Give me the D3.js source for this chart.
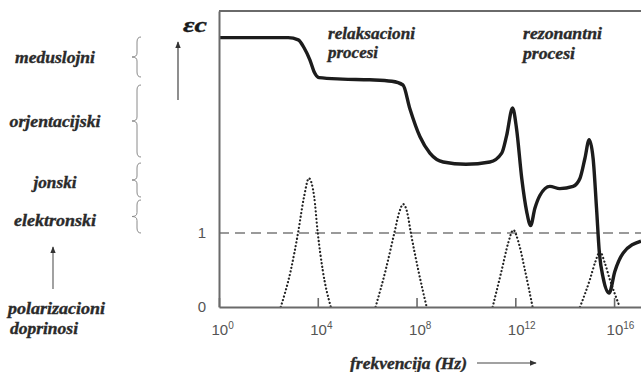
<!DOCTYPE html>
<html><head><meta charset="utf-8">
<script src="https://cdn.jsdelivr.net/npm/d3@7"></script>
<style>body{margin:0;background:#fff}svg{display:block}
.lbl{font-family:"Liberation Serif","Times New Roman",serif;font-weight:bold;font-style:italic;}
</style>
</head><body>
<svg id="c" width="641" height="372"></svg>
<script>
// ---- data (log10 of frequency in Hz, relative permittivity) ----
const solidLogF = [0, 2.8, 3.21, 3.45, 3.68, 3.85, 4.05, 5.0, 6.1, 7.0, 7.45, 7.73, 8.14, 8.54, 9.08, 10.0, 10.97, 11.45, 11.65, 11.89, 12.05, 12.26, 12.46, 12.62, 12.79, 13.0, 13.4, 13.8, 14.34, 14.62, 14.82, 14.99, 15.15, 15.29, 15.4, 15.56, 15.8, 16.03, 16.37, 17.09];
const solidEps  = [3.64, 3.64, 3.61, 3.5, 3.34, 3.18, 3.10, 3.08, 3.07, 3.05, 3.0, 2.68, 2.30, 2.08, 1.96, 1.93, 1.96, 2.08, 2.32, 2.69, 2.41, 1.74, 1.29, 1.10, 1.33, 1.51, 1.63, 1.6, 1.63, 1.74, 2.01, 2.26, 2.01, 1.33, 0.75, 0.39, 0.19, 0.48, 0.73, 0.89];

const peak1LogF = [2.5, 2.91, 3.2, 3.45, 3.64, 3.85, 4.0, 4.2, 4.53];
const peak1Val  = [0, 0.5, 1.0, 1.5, 1.74, 1.5, 1.0, 0.5, 0];
const peak2LogF = [6.34, 6.75, 7.1, 7.3, 7.46, 7.62, 7.77, 8.07, 8.41];
const peak2Val  = [0, 0.5, 1.0, 1.28, 1.39, 1.28, 1.0, 0.5, 0];
const peak3LogF = [11.08, 11.45, 11.7, 11.92, 12.15, 12.39, 12.7];
const peak3Val  = [0, 0.5, 0.85, 1.04, 0.85, 0.5, 0];
const peak4LogF = [14.62, 15.02, 15.25, 15.43, 15.62, 15.83, 16.23];
const peak4Val  = [0, 0.37, 0.62, 0.75, 0.6, 0.37, 0];

const tickExponents = [0, 4, 8, 12, 16];
const yTickValues = [0, 1];
const referenceLevel = 1;

const contributionLabels = ["meduslojni", "orjentacijski", "jonski", "elektronski"];
const processLabels = [["relaksacioni", "procesi"], ["rezonantni", "procesi"]];
const xTitle = "frekvencija (Hz)";
const yTitle = "εc";
const noteLines = ["polarizacioni", "doprinosi"];

// ---- drawing ----
const svg = d3.select("#c");
const x = d3.scaleLog().domain([1, Math.pow(10, 17.09)]).range([219, 641]);
const y = d3.scaleLinear().domain([0, 4]).range([307, 11]);

const sans = "'Liberation Sans', Arial, sans-serif";
const axisColor = "#6a6a6a";

svg.append("line")
  .attr("x1", x(1)).attr("x2", 641)
  .attr("y1", y(referenceLevel)).attr("y2", y(referenceLevel))
  .attr("stroke", "#7a7a7a").attr("stroke-width", 1.5)
  .attr("stroke-dasharray", "10 6");

const line = d3.line().x(d => x(Math.pow(10, d[0]))).y(d => y(d[1])).curve(d3.curveMonotoneX);
[[peak1LogF, peak1Val], [peak2LogF, peak2Val], [peak3LogF, peak3Val], [peak4LogF, peak4Val]].forEach(([f, v]) => {
  svg.append("path")
    .attr("d", line(f.map((d, i) => [d, v[i]])))
    .attr("fill", "none").attr("stroke", "#222").attr("stroke-width", 2.2)
    .attr("stroke-linecap", "round").attr("stroke-dasharray", "0.1 3.6");
});

svg.append("path")
  .attr("d", line(solidLogF.map((d, i) => [d, solidEps[i]])))
  .attr("fill", "none").attr("stroke", "#1c1c1c").attr("stroke-width", 3.4)
  .attr("stroke-linejoin", "round");

const xAxis = d3.axisBottom(x)
  .tickValues(tickExponents.map(e => Math.pow(10, e)))
  .tickSizeInner(-9).tickSizeOuter(0).tickFormat("");
const gx = svg.append("g").attr("transform", `translate(0,${y(0)})`).call(xAxis);
gx.select(".domain").attr("stroke", axisColor).attr("stroke-width", 2);
gx.selectAll(".tick line").attr("stroke", axisColor).attr("stroke-width", 1.6);
gx.selectAll(".tick").each(function(d, i) {
  const t = d3.select(this).append("text")
    .attr("x", -8).attr("y", 28)
    .attr("text-anchor", "start").attr("fill", "#555")
    .style("font-family", sans).style("font-size", "15px");
  t.append("tspan").text("10");
  t.append("tspan").attr("dy", -6).style("font-size", "10px").text(tickExponents[i]);
});

const yAxis = d3.axisLeft(y).tickValues(yTickValues).tickSize(0).tickPadding(13).tickFormat(d3.format("d"));
const gy = svg.append("g").attr("transform", `translate(${x(1)},0)`).call(yAxis);
gy.select(".domain").attr("stroke", axisColor).attr("stroke-width", 2);
gy.selectAll("text").attr("fill", "#555").style("font-family", sans).style("font-size", "15px");

svg.append("line").attr("x1", x(1)).attr("x2", 641).attr("y1", y(4)).attr("y2", y(4))
  .attr("stroke", axisColor).attr("stroke-width", 2);

function label(txt, px, py, opts = {}) {
  const t = svg.append("text").attr("class", "lbl").attr("x", px).attr("y", py)
    .attr("text-anchor", opts.anchor || "start")
    .attr("dominant-baseline", "central")
    .attr("fill", opts.fill || "#2a2a2a")
    .attr("stroke", opts.fill || "#2a2a2a").attr("stroke-width", 0.35)
    .style("font-size", (opts.size || 16) + "px")
    .text(txt);
  if (opts.len) t.attr("textLength", opts.len).attr("lengthAdjust", "spacingAndGlyphs");
  return t;
}

label(processLabels[0][0], 328, 33, {len: 87});
label(processLabels[0][1], 328, 52, {len: 50});
label(processLabels[1][0], 523, 33, {len: 79});
label(processLabels[1][1], 523, 53, {len: 52});

label(yTitle, 183, 25, {size: 21, fill: "#1a1a1a", len: 24});
const defs = svg.append("defs");
defs.append("marker").attr("id", "ah").attr("viewBox", "0 0 10 10").attr("refX", 9).attr("refY", 5)
  .attr("markerWidth", 6).attr("markerHeight", 6).attr("orient", "auto-start-reverse")
  .append("path").attr("d", "M0,1 L10,5 L0,9 Z").attr("fill", "#333");
svg.append("line").attr("x1", 178).attr("y1", 100).attr("x2", 178).attr("y2", 42)
  .attr("stroke", "#444").attr("stroke-width", 1.2).attr("marker-end", "url(#ah)");

label(xTitle, 350, 363, {len: 117});
svg.append("line").attr("x1", 477).attr("y1", 363).attr("x2", 536).attr("y2", 363)
  .attr("stroke", "#444").attr("stroke-width", 1.2).attr("marker-end", "url(#ah)");

const contribY = [57, 121, 182, 220];
const contribLen = [80, 91, 43, 82];
contributionLabels.forEach((c, i) => label(c, 55, contribY[i], {anchor: "middle", len: contribLen[i]}));
label(noteLines[0], 8, 308, {len: 97});
label(noteLines[1], 10, 328, {len: 68});
svg.append("line").attr("x1", 53).attr("y1", 289).attr("x2", 53).attr("y2", 247)
  .attr("stroke", "#555").attr("stroke-width", 1.1).attr("marker-end", "url(#ah)");

const braces = [[37, 77], [85, 157], [163, 197], [200, 233]];
braces.forEach(([y0, y1]) => {
  const bx = 137, ym = (y0 + y1) / 2;
  const p = `M${bx + 4},${y0} Q${bx},${y0} ${bx},${y0 + 5} L${bx},${ym - 4} Q${bx},${ym} ${bx - 5},${ym} Q${bx},${ym} ${bx},${ym + 4} L${bx},${y1 - 5} Q${bx},${y1} ${bx + 4},${y1}`;
  svg.append("path").attr("d", p).attr("fill", "none").attr("stroke", "#8a8a8a").attr("stroke-width", 1);
});
</script>
</body></html>
